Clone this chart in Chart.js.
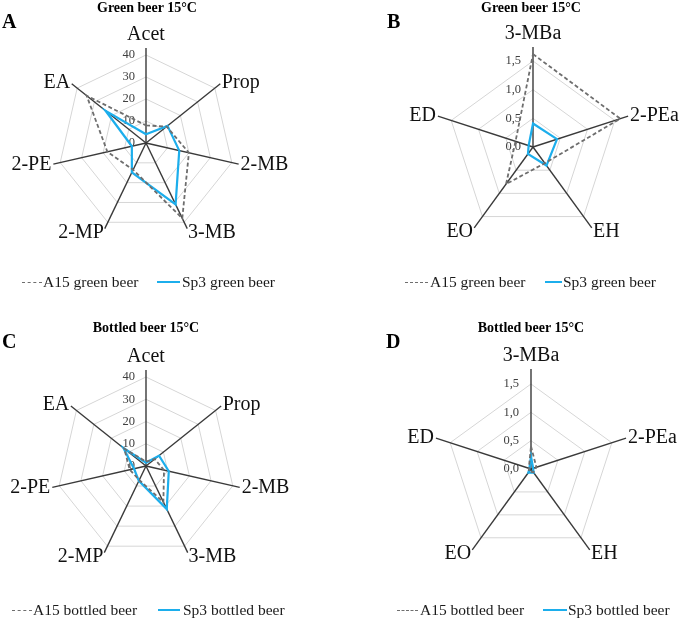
<!DOCTYPE html>
<html>
<head>
<meta charset="utf-8">
<script src="https://cdn.jsdelivr.net/npm/chart.js"></script>
<style>
  body { margin: 0; background: #fff; }
  #wrap { position: relative; width: 685px; height: 619px; overflow: hidden; font-family: "Liberation Serif", "Times New Roman", serif; }
  canvas { position: absolute; }
  .title { position: absolute; font-weight: bold; font-size: 14px; transform: translateX(-50%); white-space: nowrap; line-height: 14px; }
  .letter { position: absolute; font-weight: bold; font-size: 20px; line-height: 20px; }
  .lg { position: absolute; font-size: 15.5px; line-height: 16px; white-space: nowrap; color: #1a1a1a; }
  .dash { position: absolute; height: 0; border-top: 1.8px dashed #6e6e6e; }
  .solid { position: absolute; height: 0; border-top: 2px solid #1caeec; }
</style>
</head>
<body>
<div id="wrap">
  <canvas id="chartA" width="340" height="300" style="left:0;top:0"></canvas>
  <canvas id="chartB" width="345" height="300" style="left:340px;top:0"></canvas>
  <canvas id="chartC" width="340" height="309" style="left:0;top:310px"></canvas>
  <canvas id="chartD" width="345" height="309" style="left:340px;top:310px"></canvas>

  <div class="title" style="left:147px;top:1px">Green beer 15°C</div>
  <div class="title" style="left:531px;top:1px">Green beer 15°C</div>
  <div class="title" style="left:146px;top:321px">Bottled beer 15°C</div>
  <div class="title" style="left:531px;top:321px">Bottled beer 15°C</div>

  <div class="letter" style="left:2px;top:11px">A</div>
  <div class="letter" style="left:387px;top:11px">B</div>
  <div class="letter" style="left:2px;top:331px">C</div>
  <div class="letter" style="left:386px;top:331px">D</div>

  <div class="dash" style="left:22px;top:282px;width:20px"></div>
  <div class="lg" style="left:43px;top:274px">A15 green beer</div>
  <div class="solid" style="left:157px;top:281px;width:23px"></div>
  <div class="lg" style="left:182px;top:274px">Sp3 green beer</div>

  <div class="dash" style="left:405px;top:282px;width:23px"></div>
  <div class="lg" style="left:430px;top:274px">A15 green beer</div>
  <div class="solid" style="left:545px;top:281px;width:17px"></div>
  <div class="lg" style="left:563px;top:274px">Sp3 green beer</div>

  <div class="dash" style="left:12px;top:610px;width:20px"></div>
  <div class="lg" style="left:33px;top:602px">A15 bottled beer</div>
  <div class="solid" style="left:158px;top:609px;width:22px"></div>
  <div class="lg" style="left:183px;top:602px">Sp3 bottled beer</div>

  <div class="dash" style="left:397px;top:610px;width:21px"></div>
  <div class="lg" style="left:420px;top:602px">A15 bottled beer</div>
  <div class="solid" style="left:543px;top:609px;width:24px"></div>
  <div class="lg" style="left:568px;top:602px">Sp3 bottled beer</div>
</div>

<script>
// categories
var acidLabels = ['Acet', 'Prop', '2-MB', '3-MB', '2-MP', '2-PE', 'EA'];
var esterLabels = ['3-MBa', '2-PEa', 'EH', 'EO', 'ED'];

// green beer, panel A
var a15GreenAcid = [8, 12, 20, 38, 13.5, 18, 34.5];
var sp3GreenAcid = [4, 12.5, 15.5, 31, 14.8, 6.6, 23.5];
// green beer, panel B
var a15GreenEster = [1.62, 1.6, 0.35, 0.8, 0.32];
var sp3GreenEster = [0.41, 0.44, 0.4, 0.15, 0.08];
// bottled beer, panel C
var a15BottledAcid = [2, 5, 8.3, 18, 7, 7.5, 12.5];
var sp3BottledAcid = [1.5, 7.5, 10.5, 21.5, 7.4, 5.5, 13];
// bottled beer, panel D
var a15BottledEster = [0.4, 0.1, 0.07, 0.06, 0.04];
var sp3BottledEster = [0.22, 0.04, 0.08, 0.08, 0.03];

// axis ticks
var acidMax = 40, acidStep = 10;
var esterMax = 1.5, esterStep = 0.5;

// dark axes, tick labels left of the axis, category names at the ends
var radarDecor = {
  id: 'radarDecor',
  beforeDatasetsDraw: function(chart, args, opts) {
    var s = chart.scales.r;
    var ctx = chart.ctx;
    ctx.save();
    ctx.strokeStyle = '#3a3a3a';
    ctx.lineWidth = 1.4;
    for (var i = 0; i < chart.data.labels.length; i++) {
      var p = s.getPointPosition(i, s.drawingArea * opts.ext);
      ctx.beginPath();
      ctx.moveTo(s.xCenter, s.yCenter);
      ctx.lineTo(p.x, p.y);
      ctx.stroke();
    }
    ctx.fillStyle = '#404040';
    ctx.font = '12.5px "Liberation Serif"';
    ctx.textAlign = 'right';
    ctx.textBaseline = 'middle';
    s.ticks.forEach(function(t) {
      var d = s.getDistanceFromCenterForValue(t.value);
      ctx.fillText(t.label, s.xCenter - opts.tickGap, s.yCenter - d);
    });
    ctx.restore();
  },
  afterDatasetsDraw: function(chart, args, opts) {
    var s = chart.scales.r;
    var ctx = chart.ctx;
    ctx.save();
    ctx.fillStyle = '#111';
    ctx.font = '20px "Liberation Serif"';
    for (var i = 0; i < chart.data.labels.length; i++) {
      var a = s.getIndexAngle(i);
      var sn = Math.sin(a), cs = Math.cos(a);
      var p = s.getPointPosition(i, s.drawingArea * opts.ext + 2);
      if (Math.abs(sn) < 0.05) {
        ctx.textAlign = 'center';
        ctx.textBaseline = cs > 0 ? 'bottom' : 'top';
        p = s.getPointPosition(i, s.drawingArea * opts.ext + 3);
      } else {
        ctx.textAlign = sn > 0 ? 'left' : 'right';
        ctx.textBaseline = 'middle';
      }
      ctx.fillText(chart.data.labels[i], p.x, p.y + (cs < -0.5 ? 2 : 0));
    }
    ctx.restore();
  }
};

function makeRadar(id, labels, a15, sp3, a15Name, sp3Name, max, step, pad, ext, tickGap, decimals) {
  new Chart(document.getElementById(id), {
    type: 'radar',
    data: {
      labels: labels,
      datasets: [{
        label: a15Name,
        data: a15,
        borderColor: '#6e6e6e',
        borderWidth: 1.8,
        borderDash: [4, 2.5],
        pointRadius: 0,
        fill: false,
        clip: false
      }, {
        label: sp3Name,
        data: sp3,
        borderColor: '#1caeec',
        borderWidth: 2.2,
        pointRadius: 0,
        fill: false,
        clip: false
      }]
    },
    options: {
      responsive: false,
      animation: false,
      layout: { padding: pad },
      plugins: {
        legend: { display: false },
        tooltip: { enabled: false },
        radarDecor: { ext: ext, tickGap: tickGap }
      },
      scales: {
        r: {
          min: 0,
          max: max,
          angleLines: { display: false },
          grid: { color: '#d6d6d6', lineWidth: 1 },
          pointLabels: { display: false },
          ticks: {
            display: false,
            stepSize: step,
            callback: function(v) { return v.toFixed(decimals).replace('.', ','); }
          }
        }
      }
    },
    plugins: [radarDecor]
  });
}

makeRadar('chartA', acidLabels, a15GreenAcid, sp3GreenAcid, 'A15 green beer', 'Sp3 green beer',
  acidMax, acidStep, { left: 58, top: 55, right: 106, bottom: 69 }, 1.08, 11, 0);
makeRadar('chartB', esterLabels, a15GreenEster, sp3GreenEster, 'A15 green beer', 'Sp3 green beer',
  esterMax, esterStep, { left: 107, top: 61, right: 66, bottom: 67 }, 1.163, 12, 1);
makeRadar('chartC', acidLabels, a15BottledAcid, sp3BottledAcid, 'A15 bottled beer', 'Sp3 bottled beer',
  acidMax, acidStep, { left: 57, top: 67, right: 105, bottom: 64 }, 1.08, 11, 0);
makeRadar('chartD', esterLabels, a15BottledEster, sp3BottledEster, 'A15 bottled beer', 'Sp3 bottled beer',
  esterMax, esterStep, { left: 106, top: 74, right: 69, bottom: 65 }, 1.176, 12, 1);
</script>
</body>
</html>
